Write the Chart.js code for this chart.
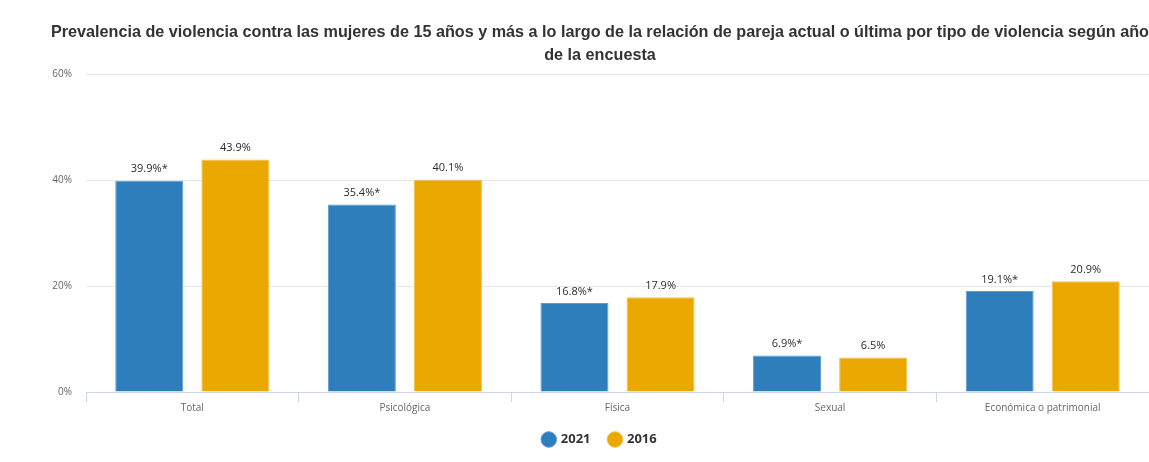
<!DOCTYPE html>
<html>
<head>
<meta charset="utf-8">
<script src="https://cdn.jsdelivr.net/npm/chart.js@4"></script>
<style>
	html, body { margin: 0; padding: 0; background: #fff; overflow: hidden; }
	#wrap { position: relative; width: 1149px; height: 462px; }
</style>
</head>
<body>
<div id="wrap"><canvas id="chart" width="1149" height="462"></canvas></div>
<script>
var categories = ['Total', 'Psicológica', 'Física', 'Sexual', 'Económica o patrimonial'];
var values2021 = [39.9, 35.4, 16.8, 6.9, 19.1];
var values2016 = [43.9, 40.1, 17.9, 6.5, 20.9];
var labels2021 = ['39.9%*', '35.4%*', '16.8%*', '6.9%*', '19.1%*'];
var labels2016 = ['43.9%', '40.1%', '17.9%', '6.5%', '20.9%'];
var yTicks = [0, 20, 40, 60];

// draw the value labels above each bar
var barLabels = {
	id: 'barLabels',
	afterDatasetsDraw: function(chart) {
		var ctx = chart.ctx;
		ctx.save();
		ctx.font = '11px "Open Sans"';
		ctx.fillStyle = '#2b2b2b';
		ctx.textAlign = 'center';
		ctx.textBaseline = 'bottom';
		chart.data.datasets.forEach(function(ds, i) {
			var meta = chart.getDatasetMeta(i);
			meta.data.forEach(function(bar, j) {
				ctx.fillText(ds.valueLabels[j], bar.x, bar.y - 6);
			});
		});
		ctx.restore();
	}
};

new Chart(document.getElementById('chart').getContext('2d'), {
	type: 'bar',
	data: {
		labels: categories,
		datasets: [{
			label: '2021',
			data: values2021,
			valueLabels: labels2021,
			backgroundColor: '#2e7ebc',
			borderColor: '#5a9bd0',
			borderWidth: 1
		}, {
			label: '2016',
			data: values2016,
			valueLabels: labels2016,
			backgroundColor: '#eaa800',
			borderColor: '#f2c04a',
			borderWidth: 1
		}]
	},
	options: {
		responsive: false,
		animation: false,
		categoryPercentage: 0.81,
		barPercentage: 0.79,
		layout: { padding: { left: 51, right: 0, top: 0, bottom: 6 } },
		plugins: {
			title: {
				display: true,
				text: ['Prevalencia de violencia contra las mujeres de 15 años y más a lo largo de la relación de pareja actual o última por tipo de violencia según año', 'de la encuesta'],
				font: { family: '"Liberation Sans"', size: 16.2, weight: 'bold', lineHeight: 1.43 },
				color: '#333333',
				padding: { top: 20.5, bottom: 7.5 }
			},
			legend: {
				position: 'bottom',
				labels: {
					usePointStyle: true,
					pointStyle: 'circle',
					boxWidth: 11,
					boxHeight: 11,
					padding: 19,
					color: '#333333',
					font: { family: '"Open Sans"', size: 13, weight: 'bold' }
				}
			},
			tooltip: { enabled: false }
		},
		scales: {
			x: {
				grid: {
					offset: true,
					drawOnChartArea: false,
					color: '#ccd6eb',
					tickLength: 10
				},
				border: { color: '#ccd6eb' },
				ticks: {
					color: '#666666',
					font: { family: '"Open Sans"', size: 10 },
					padding: 0
				}
			},
			y: {
				min: 0,
				max: 60,
				afterBuildTicks: function(scale) {
					scale.ticks = yTicks.map(function(v) { return { value: v }; });
				},
				afterFit: function(scale) {
					scale.width = 35;
				},
				grid: { color: '#e6e6e6', drawTicks: false },
				border: { display: false },
				ticks: {
					color: '#666666',
					font: { family: '"Open Sans"', size: 10 },
					padding: 14,
					callback: function(v) { return v + '%'; }
				}
			}
		}
	},
	plugins: [barLabels]
});
</script>
</body>
</html>
